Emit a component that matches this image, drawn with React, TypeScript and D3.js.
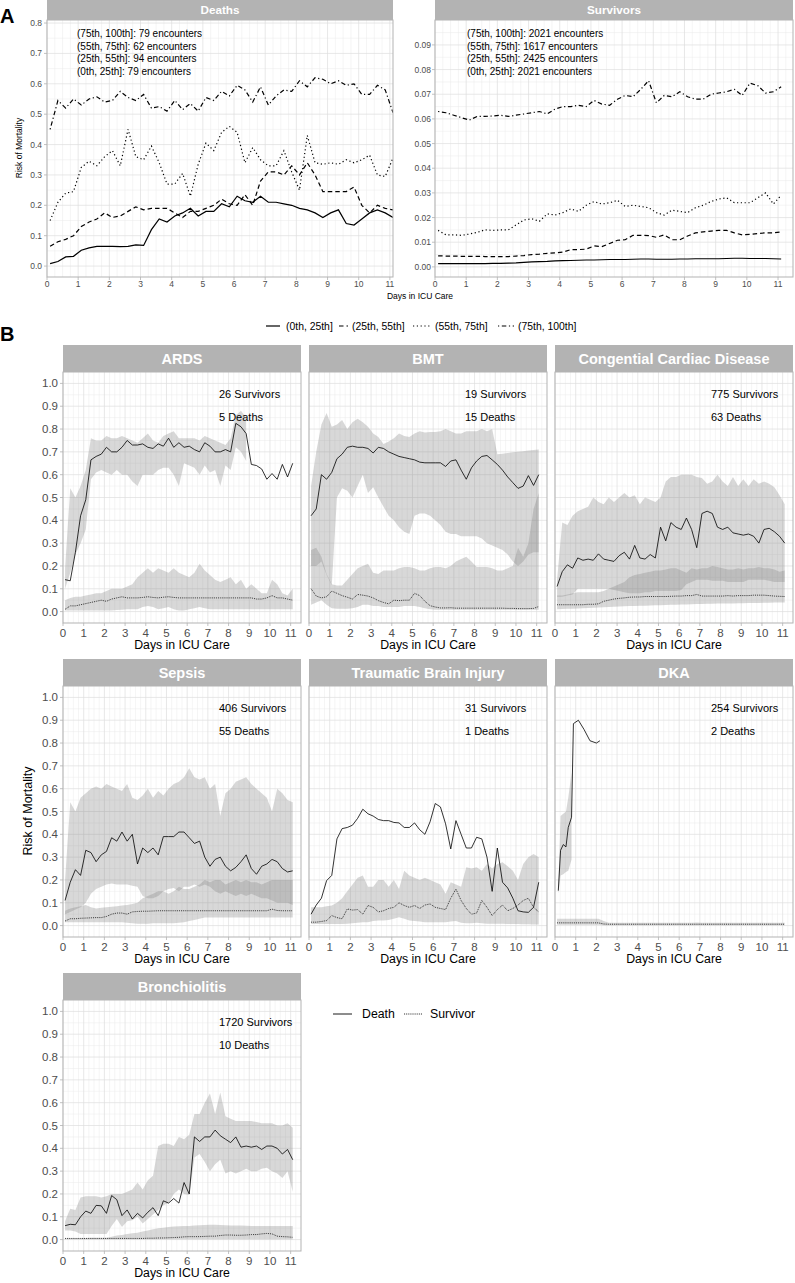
import React from 'react'
import * as d3 from 'd3'

// sampling grid (days in ICU) shared by most series
const DAYS = d3.range(0.1, 11.11, 0.25)
const X_TICKS = d3.range(0, 12)

// ---------- Panel A ----------
const QUARTILES = ['(0th, 25th]', '(25th, 55th]', '(55th, 75th]', '(75th, 100th]']
const DEATH_ENCOUNTERS = [79, 94, 62, 79]
const SURVIVOR_ENCOUNTERS = [2021, 2425, 1617, 2021]
const A_DEATH_TICKS = [0, 0.1, 0.2, 0.3, 0.4, 0.5, 0.6, 0.7, 0.8]
const A_SURV_TICKS = [0, 0.01, 0.02, 0.03, 0.04, 0.05, 0.06, 0.07, 0.08, 0.09]

const A_DEATH_Q1 = [0.008,0.015,0.03,0.032,0.052,0.06,0.065,0.065,0.065,0.064,0.065,0.07,0.068,0.12,0.155,0.145,0.165,0.175,0.19,0.165,0.18,0.18,0.205,0.195,0.23,0.215,0.21,0.23,0.21,0.21,0.205,0.2,0.19,0.185,0.175,0.16,0.175,0.185,0.14,0.135,0.155,0.175,0.185,0.175,0.16]
const A_DEATH_Q2 = [0.065,0.08,0.088,0.1,0.13,0.145,0.155,0.175,0.16,0.165,0.18,0.195,0.185,0.19,0.19,0.19,0.175,0.16,0.18,0.18,0.19,0.2,0.22,0.205,0.2,0.235,0.2,0.28,0.31,0.31,0.3,0.33,0.3,0.34,0.3,0.245,0.245,0.245,0.245,0.26,0.2,0.175,0.2,0.19,0.185]
const A_DEATH_Q3 = [0.15,0.21,0.24,0.245,0.325,0.345,0.33,0.36,0.38,0.33,0.45,0.36,0.35,0.395,0.34,0.27,0.27,0.305,0.23,0.335,0.405,0.38,0.44,0.46,0.44,0.34,0.39,0.35,0.33,0.33,0.38,0.31,0.25,0.43,0.34,0.335,0.34,0.335,0.35,0.34,0.35,0.365,0.3,0.295,0.355]
const A_DEATH_Q4 = [0.45,0.545,0.52,0.55,0.53,0.55,0.557,0.54,0.545,0.575,0.555,0.545,0.565,0.52,0.525,0.51,0.545,0.515,0.535,0.51,0.555,0.545,0.575,0.56,0.595,0.58,0.54,0.59,0.53,0.56,0.58,0.575,0.61,0.59,0.62,0.615,0.6,0.61,0.595,0.6,0.565,0.565,0.595,0.58,0.505]

const A_SURV_Q1 = [0.0013,0.0013,0.0013,0.0013,0.0013,0.0013,0.0013,0.0014,0.0014,0.0015,0.0016,0.0018,0.002,0.0021,0.0022,0.0024,0.0025,0.0026,0.0027,0.0028,0.0028,0.0029,0.003,0.003,0.003,0.0031,0.0032,0.0032,0.0031,0.0031,0.0031,0.0032,0.0032,0.0033,0.0033,0.0033,0.0033,0.0034,0.0035,0.0035,0.0034,0.0034,0.0034,0.0033,0.0032]
const A_SURV_Q2 = [0.0045,0.0044,0.0044,0.0043,0.0043,0.0043,0.0042,0.0042,0.0042,0.0042,0.0044,0.0046,0.005,0.0052,0.0055,0.0057,0.006,0.007,0.007,0.0072,0.0085,0.0082,0.0095,0.0108,0.011,0.0128,0.0128,0.0127,0.012,0.013,0.011,0.011,0.0125,0.0138,0.0142,0.0145,0.0148,0.0148,0.0138,0.013,0.0132,0.0135,0.0138,0.0138,0.0142]
const A_SURV_Q3 = [0.0148,0.013,0.013,0.0128,0.0133,0.014,0.015,0.0148,0.015,0.015,0.017,0.019,0.0195,0.0185,0.0215,0.021,0.022,0.0235,0.0225,0.025,0.0265,0.0255,0.026,0.027,0.0245,0.025,0.0245,0.024,0.022,0.021,0.023,0.0225,0.022,0.024,0.025,0.0265,0.0275,0.028,0.026,0.026,0.026,0.028,0.03,0.0255,0.029]
const A_SURV_Q4 = [0.063,0.0625,0.0615,0.0605,0.0595,0.061,0.061,0.0612,0.0615,0.061,0.0615,0.062,0.0625,0.063,0.062,0.064,0.065,0.065,0.0655,0.065,0.0675,0.066,0.0655,0.068,0.0695,0.069,0.072,0.0755,0.0665,0.0695,0.069,0.071,0.069,0.068,0.068,0.07,0.0705,0.071,0.072,0.0695,0.0745,0.0735,0.0705,0.071,0.073]

// ---------- Panel B ----------
const CONDITIONS = ['ARDS', 'BMT', 'Congential Cardiac Disease', 'Sepsis', 'Traumatic Brain Injury', 'DKA', 'Bronchiolitis']
const SURVIVOR_N = [26, 19, 775, 406, 31, 254, 1720]
const DEATH_N = [5, 15, 63, 55, 1, 2, 10]
const B_Y_TICKS = [0, 0.1, 0.2, 0.3, 0.4, 0.5, 0.6, 0.7, 0.8, 0.9, 1.0]
const OUTCOMES = ['Death', 'Survivor']

const ARDS_D_MID = [0.14,0.135,0.26,0.42,0.49,0.665,0.68,0.69,0.72,0.7,0.7,0.72,0.75,0.73,0.73,0.735,0.72,0.715,0.735,0.725,0.76,0.72,0.74,0.72,0.725,0.71,0.7,0.74,0.725,0.7,0.7,0.71,0.7,0.825,0.81,0.78,0.645,0.64,0.625,0.58,0.605,0.58,0.645,0.59,0.65]
const ARDS_D_LO = [0.1,0.17,0.25,0.3,0.36,0.58,0.61,0.62,0.61,0.6,0.62,0.6,0.6,0.57,0.55,0.6,0.6,0.6,0.62,0.63,0.63,0.6,0.55,0.65,0.64,0.63,0.6,0.64,0.61,0.62,0.55,0.64,0.62,0.72,0.7,0.66,null,null,null,null,null,null,null,null,null]
const ARDS_D_HI = [0.19,0.54,0.5,0.55,0.62,0.76,0.75,0.75,0.77,0.76,0.76,0.77,0.76,0.75,0.74,0.76,0.78,0.75,0.74,0.77,0.78,0.79,0.76,0.76,0.76,0.76,0.75,0.77,0.76,0.75,0.74,0.73,0.76,0.86,0.88,0.85,null,null,null,null,null,null,null,null,null]
const ARDS_S_MID = [0.01,0.025,0.025,0.03,0.035,0.04,0.045,0.05,0.045,0.055,0.06,0.065,0.06,0.06,0.06,0.062,0.065,0.062,0.06,0.063,0.065,0.062,0.06,0.06,0.06,0.06,0.06,0.06,0.06,0.06,0.06,0.06,0.06,0.06,0.06,0.06,0.06,0.055,0.055,0.06,0.07,0.06,0.06,0.055,0.05]
const ARDS_S_LO = [0.005,0.005,0.005,0.005,0.005,0.005,0.005,0.005,0.005,0.005,0.007,0.008,0.01,0.01,0.01,0.02,0.025,0.02,0.01,0.015,0.02,0.01,0.005,0.005,0.01,0.015,0.02,0.015,0.01,0.01,0.01,0.01,0.01,0.01,0.01,0.01,0.01,0.01,0.01,0.01,0.01,0.01,0.01,0.01,0.01]
const ARDS_S_HI = [0.05,0.06,0.065,0.065,0.07,0.075,0.08,0.08,0.09,0.1,0.1,0.1,0.11,0.12,0.15,0.17,0.19,0.17,0.19,0.18,0.17,0.19,0.17,0.16,0.15,0.17,0.21,0.18,0.16,0.14,0.13,0.14,0.15,0.12,0.14,0.1,0.12,0.1,0.08,0.08,0.14,0.12,0.08,0.07,0.1]

const BMT_D_MID = [0.42,0.45,0.6,0.58,0.61,0.67,0.69,0.72,0.725,0.72,0.72,0.715,0.695,0.72,0.715,0.7,0.69,0.68,0.675,0.67,0.665,0.655,0.652,0.652,0.652,0.652,0.636,0.66,0.665,0.62,0.58,0.63,0.66,0.68,0.684,0.665,0.645,0.62,0.59,0.565,0.54,0.55,0.596,0.553,0.6]
const BMT_D_LO = [0.2,0.2,0.22,0.16,0.115,0.5,0.54,0.53,0.5,0.55,0.6,0.52,0.545,0.5,0.46,0.42,0.4,0.37,0.35,0.34,0.42,0.43,0.43,0.42,0.4,0.38,0.35,0.34,0.34,0.33,0.33,0.33,0.33,0.32,0.3,0.29,0.28,0.27,0.25,0.22,0.2,0.22,0.25,0.26,0.26]
const BMT_D_HI = [0.55,0.7,0.82,0.87,0.81,0.82,0.84,0.8,0.83,0.845,0.83,0.81,0.78,0.765,0.735,0.745,0.76,0.78,0.77,0.765,0.78,0.79,0.785,0.787,0.787,0.79,0.8,0.79,0.78,0.78,0.79,0.79,0.79,0.8,0.79,0.8,0.69,0.692,0.695,0.698,0.7,0.703,0.706,0.708,0.71]
const BMT_S_MID = [0.1,0.068,0.06,0.065,0.09,0.08,0.07,0.063,0.055,0.075,0.072,0.068,0.06,0.048,0.04,0.034,0.05,0.048,0.05,0.05,0.08,0.07,0.045,0.026,0.02,0.016,0.016,0.017,0.015,0.015,0.015,0.015,0.015,0.015,0.015,0.015,0.015,0.015,0.014,0.014,0.013,0.013,0.013,0.014,0.022]
const BMT_S_LO = [0.03,0.04,0.05,0.03,0.015,0.012,0.012,0.012,0.015,0.02,0.03,0.03,0.025,0.025,0.02,0.02,0.02,0.02,0.025,0.025,0.025,0.02,0.015,0.01,0.008,0.008,0.008,0.008,0.008,0.008,0.008,0.008,0.008,0.008,0.008,0.008,0.008,0.008,0.008,0.008,0.008,0.008,0.008,0.008,0.008]
const BMT_S_HI = [0.27,0.28,0.24,0.165,0.12,0.114,0.114,0.14,0.165,0.19,0.2,0.21,0.17,0.165,0.18,0.18,0.18,0.19,0.195,0.195,0.19,0.18,0.18,0.19,0.195,0.195,0.19,0.2,0.22,0.23,0.24,0.22,0.195,0.195,0.195,0.19,0.18,0.18,0.19,0.2,0.28,0.24,0.3,0.45,0.52]

const CCD_D_MID = [0.11,0.175,0.205,0.19,0.235,0.225,0.23,0.225,0.253,0.23,0.225,0.22,0.245,0.26,0.23,0.29,0.235,0.23,0.25,0.235,0.37,0.31,0.39,0.37,0.36,0.41,0.36,0.28,0.43,0.44,0.43,0.37,0.36,0.37,0.345,0.34,0.335,0.34,0.33,0.3,0.36,0.365,0.35,0.33,0.3]
const CCD_D_LO = [0.065,0.065,0.07,0.075,0.1,0.1,0.1,0.1,0.1,0.1,0.1,0.095,0.09,0.085,0.08,0.08,0.08,0.085,0.085,0.09,0.09,0.09,0.09,0.09,0.095,0.12,0.13,0.14,0.14,0.14,0.135,0.135,0.135,0.13,0.13,0.13,0.13,0.14,0.14,0.14,0.14,0.135,0.13,0.13,0.13]
const CCD_D_HI = [0.14,0.39,0.38,0.42,0.44,0.45,0.46,0.5,0.48,0.47,0.5,0.48,0.5,0.52,0.5,0.51,0.47,0.5,0.49,0.48,0.5,0.57,0.59,0.59,0.6,0.6,0.6,0.59,0.585,0.56,0.57,0.6,0.57,0.55,0.59,0.55,0.58,0.55,0.58,0.56,0.57,0.56,0.545,0.51,0.47]
const CCD_S_MID = [0.03,0.03,0.03,0.03,0.03,0.03,0.032,0.032,0.034,0.045,0.05,0.055,0.058,0.06,0.063,0.064,0.064,0.066,0.066,0.066,0.066,0.066,0.067,0.068,0.068,0.07,0.07,0.075,0.068,0.068,0.068,0.068,0.068,0.07,0.068,0.07,0.07,0.07,0.072,0.072,0.072,0.07,0.068,0.067,0.066]
const CCD_S_LO = [0.01,0.011,0.012,0.013,0.014,0.015,0.016,0.017,0.018,0.019,0.02,0.021,0.022,0.023,0.024,0.025,0.026,0.026,0.027,0.028,0.028,0.029,0.03,0.03,0.031,0.031,0.032,0.033,0.033,0.034,0.034,0.035,0.035,0.036,0.036,0.037,0.037,0.038,0.038,0.038,0.039,0.039,0.04,0.04,0.04]
const CCD_S_HI = [0.07,0.07,0.075,0.08,0.085,0.085,0.085,0.085,0.085,0.09,0.1,0.11,0.12,0.13,0.15,0.16,0.165,0.17,0.175,0.18,0.18,0.185,0.19,0.19,0.18,0.17,0.19,0.185,0.19,0.19,0.2,0.195,0.19,0.185,0.185,0.19,0.185,0.19,0.19,0.195,0.19,0.19,0.185,0.175,0.18]

const SEP_D_MID = [0.11,0.19,0.245,0.22,0.33,0.32,0.28,0.31,0.325,0.385,0.37,0.41,0.37,0.4,0.27,0.34,0.32,0.34,0.31,0.39,0.39,0.39,0.41,0.41,0.385,0.36,0.37,0.3,0.26,0.29,0.3,0.26,0.24,0.255,0.28,0.31,0.25,0.225,0.26,0.27,0.29,0.28,0.25,0.235,0.24]
const SEP_D_LO = [0.05,0.06,0.07,0.08,0.1,0.14,0.16,0.17,0.18,0.185,0.18,0.18,0.18,0.175,0.17,0.13,0.12,0.12,0.13,0.15,0.16,0.165,0.15,0.17,0.17,0.18,0.17,0.18,0.17,0.15,0.14,0.15,0.14,0.13,0.14,0.13,0.14,0.13,0.12,0.12,0.11,0.1,0.1,0.1,0.09]
const SEP_D_HI = [0.2,0.54,0.5,0.56,0.58,0.6,0.61,0.6,0.62,0.61,0.6,0.59,0.62,0.56,0.55,0.57,0.6,0.56,0.59,0.57,0.6,0.62,0.63,0.65,0.69,0.65,0.64,0.65,0.6,0.62,0.48,0.58,0.6,0.63,0.64,0.65,0.62,0.6,0.58,0.56,0.5,0.6,0.58,0.55,0.54]
const SEP_S_MID = [0.02,0.03,0.03,0.032,0.033,0.034,0.035,0.035,0.04,0.05,0.055,0.055,0.05,0.06,0.062,0.063,0.063,0.064,0.065,0.065,0.065,0.065,0.065,0.065,0.065,0.065,0.065,0.065,0.065,0.065,0.065,0.065,0.065,0.065,0.065,0.065,0.065,0.065,0.065,0.065,0.072,0.066,0.065,0.065,0.065]
const SEP_S_LO = [0.015,0.015,0.015,0.015,0.015,0.015,0.015,0.015,0.015,0.015,0.015,0.015,0.012,0.01,0.008,0.008,0.008,0.01,0.01,0.01,0.01,0.01,0.012,0.015,0.02,0.025,0.03,0.035,0.035,0.035,0.035,0.035,0.035,0.035,0.035,0.035,0.035,0.035,0.035,0.035,0.035,0.035,0.035,0.035,0.035]
const SEP_S_HI = [0.065,0.075,0.08,0.085,0.09,0.08,0.075,0.078,0.08,0.083,0.085,0.088,0.09,0.095,0.1,0.12,0.13,0.14,0.15,0.15,0.14,0.15,0.17,0.16,0.16,0.17,0.18,0.2,0.19,0.2,0.2,0.18,0.19,0.2,0.19,0.2,0.19,0.19,0.18,0.19,0.2,0.2,0.2,0.2,0.2]

const TBI_D_MID = [0.05,0.09,0.12,0.197,0.22,0.38,0.425,0.43,0.44,0.47,0.51,0.49,0.48,0.465,0.46,0.46,0.452,0.45,0.43,0.43,0.45,0.42,0.4,0.455,0.535,0.52,0.446,0.336,0.46,0.4,0.34,0.34,0.387,0.38,0.3,0.15,0.34,0.19,0.165,0.12,0.065,0.06,0.058,0.08,0.19]
const TBI_S_MID = [0.015,0.015,0.018,0.022,0.044,0.035,0.03,0.073,0.068,0.07,0.05,0.088,0.08,0.06,0.065,0.075,0.08,0.1,0.088,0.08,0.088,0.075,0.09,0.095,0.08,0.075,0.07,0.12,0.16,0.11,0.075,0.05,0.055,0.11,0.08,0.044,0.07,0.09,0.065,0.075,0.09,0.11,0.12,0.08,0.06]
const TBI_S_LO = [0.007,0.007,0.007,0.007,0.007,0.007,0.007,0.008,0.01,0.012,0.015,0.015,0.02,0.022,0.022,0.025,0.03,0.037,0.03,0.022,0.02,0.018,0.015,0.015,0.015,0.015,0.015,0.018,0.02,0.012,0.01,0.01,0.012,0.01,0.008,0.008,0.008,0.008,0.007,0.007,0.007,0.006,0.006,0.005,0.005]
const TBI_S_HI = [0.08,0.08,0.08,0.085,0.088,0.1,0.12,0.15,0.18,0.21,0.22,0.17,0.17,0.2,0.2,0.17,0.2,0.16,0.24,0.22,0.21,0.2,0.21,0.2,0.19,0.18,0.14,0.19,0.18,0.17,0.256,0.25,0.256,0.24,0.27,0.25,0.27,0.278,0.26,0.24,0.2,0.27,0.3,0.314,0.3]

const DKA_D_DAYS = [0.16, 0.27, 0.4, 0.53, 0.64, 0.8, 0.89, 1.13, 1.4, 1.69, 2.0, 2.17]
const DKA_D_MID = [0.153, 0.33, 0.355, 0.345, 0.43, 0.475, 0.885, 0.9, 0.86, 0.81, 0.8, 0.81]
const DKA_D_LO = [0.14, 0.22, 0.225, 0.235, 0.24, 0.29, null, null, null, null, null, null]
const DKA_D_HI = [0.17, 0.48, 0.49, 0.5, 0.56, 0.67, null, null, null, null, null, null]
const DKA_S_MID = [0.012,0.012,0.012,0.012,0.012,0.012,0.012,0.012,0.012,0.007,0.006,0.006,0.006,0.006,0.006,0.006,0.006,0.006,0.006,0.006,0.006,0.006,0.006,0.006,0.006,0.006,0.006,0.006,0.006,0.006,0.006,0.006,0.006,0.006,0.006,0.006,0.006,0.006,0.006,0.006,0.006,0.006,0.006,0.006,0.006]
const DKA_S_LO = [0.004,0.004,0.004,0.004,0.004,0.004,0.004,0.004,0.004,0.002,0.002,0.002,0.002,0.002,0.002,0.002,0.002,0.002,0.002,0.002,0.002,0.002,0.002,0.002,0.002,0.002,0.002,0.002,0.002,0.002,0.002,0.002,0.002,0.002,0.002,0.002,0.002,0.002,0.002,0.002,0.002,0.002,0.002,0.002,0.002]
const DKA_S_HI = [0.03,0.03,0.03,0.03,0.03,0.03,0.03,0.03,0.03,0.02,0.013,0.012,0.012,0.012,0.012,0.012,0.012,0.012,0.012,0.012,0.012,0.012,0.012,0.012,0.012,0.012,0.012,0.014,0.012,0.012,0.012,0.012,0.012,0.012,0.012,0.012,0.012,0.012,0.012,0.012,0.012,0.012,0.012,0.012,0.012]

const BRO_D_MID = [0.061,0.067,0.065,0.1,0.125,0.115,0.15,0.148,0.115,0.193,0.175,0.105,0.13,0.09,0.115,0.095,0.12,0.14,0.105,0.17,0.16,0.18,0.16,0.25,0.2,0.45,0.43,0.45,0.45,0.48,0.455,0.44,0.425,0.45,0.405,0.41,0.405,0.41,0.395,0.41,0.41,0.4,0.375,0.395,0.35]
const BRO_D_LO = [0.04,0.04,0.035,0.025,0.025,0.025,0.025,0.025,0.025,0.06,0.09,0.055,0.08,0.085,0.1,0.07,0.09,0.11,0.13,0.15,0.16,0.2,0.22,0.2,0.195,0.36,0.375,0.34,0.3,0.33,0.35,0.29,0.3,0.29,0.3,0.31,0.3,0.3,0.31,0.315,0.3,0.29,0.27,0.3,0.21]
const BRO_D_HI = [0.08,0.135,0.13,0.185,0.19,0.19,0.19,0.185,0.19,0.2,0.2,0.2,0.21,0.22,0.25,0.22,0.26,0.28,0.41,0.42,0.42,0.41,0.45,0.44,0.46,0.55,0.55,0.6,0.64,0.55,0.645,0.54,0.53,0.52,0.52,0.52,0.52,0.515,0.51,0.51,0.51,0.5,0.5,0.51,0.49]
const BRO_S_MID = [0.005,0.005,0.005,0.005,0.005,0.005,0.005,0.005,0.005,0.005,0.005,0.005,0.005,0.005,0.005,0.005,0.006,0.006,0.007,0.007,0.008,0.009,0.01,0.012,0.013,0.013,0.013,0.014,0.015,0.015,0.018,0.02,0.02,0.019,0.019,0.02,0.022,0.022,0.025,0.027,0.025,0.015,0.013,0.012,0.01]
const BRO_S_LO = [0.001,0.001,0.001,0.001,0.001,0.001,0.001,0.001,0.001,0.001,0.001,0.001,0.001,0.001,0.001,0.001,0.001,0.001,0.001,0.001,0.002,0.002,0.002,0.002,0.002,0.002,0.002,0.002,0.002,0.002,0.002,0.002,0.002,0.002,0.002,0.002,0.002,0.002,0.002,0.002,0.002,0.002,0.002,0.002,0.002]
const BRO_S_HI = [0.005,0.006,0.006,0.007,0.007,0.008,0.008,0.008,0.008,0.012,0.018,0.02,0.025,0.028,0.03,0.035,0.04,0.045,0.05,0.052,0.055,0.057,0.058,0.06,0.06,0.062,0.063,0.064,0.065,0.065,0.064,0.063,0.062,0.062,0.062,0.061,0.06,0.06,0.06,0.06,0.06,0.06,0.06,0.06,0.06]

const B_SERIES = [
  { dDays: DAYS, dMid: ARDS_D_MID, dLo: ARDS_D_LO, dHi: ARDS_D_HI, sMid: ARDS_S_MID, sLo: ARDS_S_LO, sHi: ARDS_S_HI },
  { dDays: DAYS, dMid: BMT_D_MID, dLo: BMT_D_LO, dHi: BMT_D_HI, sMid: BMT_S_MID, sLo: BMT_S_LO, sHi: BMT_S_HI },
  { dDays: DAYS, dMid: CCD_D_MID, dLo: CCD_D_LO, dHi: CCD_D_HI, sMid: CCD_S_MID, sLo: CCD_S_LO, sHi: CCD_S_HI },
  { dDays: DAYS, dMid: SEP_D_MID, dLo: SEP_D_LO, dHi: SEP_D_HI, sMid: SEP_S_MID, sLo: SEP_S_LO, sHi: SEP_S_HI },
  { dDays: DAYS, dMid: TBI_D_MID, dLo: null, dHi: null, sMid: TBI_S_MID, sLo: TBI_S_LO, sHi: TBI_S_HI },
  { dDays: DKA_D_DAYS, dMid: DKA_D_MID, dLo: DKA_D_LO, dHi: DKA_D_HI, sMid: DKA_S_MID, sLo: DKA_S_LO, sHi: DKA_S_HI },
  { dDays: DAYS, dMid: BRO_D_MID, dLo: BRO_D_LO, dHi: BRO_D_HI, sMid: BRO_S_MID, sLo: BRO_S_LO, sHi: BRO_S_HI },
]

// ---------- styling ----------
const FONT = '"Liberation Sans", Arial, Helvetica, sans-serif'
const STRIP = '#b3b3b3'
const GRID_MAJOR = '#dedede'
const GRID_MINOR = '#ebebeb'
const TICK_TXT = '#4d4d4d'
const BAND = '#7f7f7f'
const A_DASH = ['', '4.5,3', '1.2,2.6', '1.2,2.6,4.5,2.6']

type Scale = d3.ScaleLinear<number, number>

function Facet(props: any) {
  const { id, x, y, stripH, title, titleSize, xMinor, yMinor, yTicks, yFmt, showY,
    tickFont, xLabelY, yLabelX, children } = props
  const [left, right] = x.range()
  const [bottom, top] = y.range()
  const [y0, y1] = y.domain()
  const [x0, x1] = x.domain()
  const inY = (v: number) => v > y0 && v < y1
  const inX = (v: number) => v > x0 && v < x1
  return (
    <g>
      <rect x={left} y={top - stripH} width={right - left} height={stripH} fill={STRIP} />
      <text x={(left + right) / 2} y={top - stripH / 2} dy="0.36em" textAnchor="middle"
        fill="#fff" fontWeight="bold" fontSize={titleSize}>{title}</text>
      <rect x={left} y={top} width={right - left} height={bottom - top} fill="#fff" />
      {xMinor.filter(inX).map((v: number) => (
        <line key={'xm' + v} x1={x(v)} x2={x(v)} y1={top} y2={bottom} stroke={GRID_MINOR} strokeWidth={0.5} />
      ))}
      {yMinor.filter(inY).map((v: number) => (
        <line key={'ym' + v} x1={left} x2={right} y1={y(v)} y2={y(v)} stroke={GRID_MINOR} strokeWidth={0.5} />
      ))}
      {X_TICKS.map(v => (
        <line key={'xM' + v} x1={x(v)} x2={x(v)} y1={top} y2={bottom} stroke={GRID_MAJOR} strokeWidth={0.7} />
      ))}
      {yTicks.map((v: number) => (
        <line key={'yM' + v} x1={left} x2={right} y1={y(v)} y2={y(v)} stroke={GRID_MAJOR} strokeWidth={0.7} />
      ))}
      <defs>
        <clipPath id={id}><rect x={left} y={top} width={right - left} height={bottom - top} /></clipPath>
      </defs>
      <g clipPath={`url(#${id})`}>{children}</g>
      <rect x={left} y={top} width={right - left} height={bottom - top} fill="none" stroke={STRIP} strokeWidth={1} />
      {X_TICKS.map(v => (
        <g key={'xt' + v}>
          <line x1={x(v)} x2={x(v)} y1={bottom} y2={bottom + 3} stroke={STRIP} strokeWidth={0.8} />
          <text x={x(v)} y={xLabelY} textAnchor="middle" fontSize={tickFont} fill={TICK_TXT}>{v}</text>
        </g>
      ))}
      {showY && yTicks.map((v: number) => (
        <g key={'yt' + v}>
          <line x1={left - 3} x2={left} y1={y(v)} y2={y(v)} stroke={STRIP} strokeWidth={0.8} />
          <text x={yLabelX} y={y(v)} dy="0.35em" textAnchor="end" fontSize={tickFont} fill={TICK_TXT}>{yFmt(v)}</text>
        </g>
      ))}
    </g>
  )
}

function linePath(x: Scale, y: Scale, days: number[], vals: (number | null)[]) {
  return d3.line<number>()
    .defined(i => vals[i] != null)
    .x(i => x(days[i]))
    .y(i => y(vals[i] as number))(d3.range(vals.length)) || ''
}

function bandPath(x: Scale, y: Scale, days: number[], lo: (number | null)[], hi: (number | null)[]) {
  return d3.area<number>()
    .defined(i => lo[i] != null && hi[i] != null)
    .x(i => x(days[i]))
    .y0(i => y(lo[i] as number))
    .y1(i => y(hi[i] as number))(d3.range(lo.length)) || ''
}

const quarterDays = (max: number) => d3.range(0.25, max, 0.25).filter(v => Math.abs(v - Math.round(v)) > 1e-6)

function PanelA() {
  const xD = d3.scaleLinear().domain([0, 11.1]).range([47, 393])
  const yD = d3.scaleLinear().domain([-0.036, 0.81]).range([277, 20])
  const xS = d3.scaleLinear().domain([0, 11.48]).range([435, 793])
  const yS = d3.scaleLinear().domain([-0.0041, 0.1001]).range([277, 20])
  const deaths = [A_DEATH_Q1, A_DEATH_Q2, A_DEATH_Q3, A_DEATH_Q4]
  const survs = [A_SURV_Q1, A_SURV_Q2, A_SURV_Q3, A_SURV_Q4]
  const halfY = (ticks: number[], step: number) => ticks.map(t => t + step / 2)
  const order = [3, 2, 1, 0]
  return (
    <g>
      <text x={0} y={23} fontSize={20} fontWeight="bold">A</text>
      <Facet id="clipAD" x={xD} y={yD} stripH={20} title="Deaths" titleSize={11.7}
        xMinor={quarterDays(11.1)} yMinor={halfY(A_DEATH_TICKS, 0.1)} yTicks={A_DEATH_TICKS}
        yFmt={(v: number) => v.toFixed(1)} showY tickFont={8.5} xLabelY={287} yLabelX={42}>
        {deaths.map((vals, k) => (
          <path key={k} d={linePath(xD, yD, DAYS, vals)} fill="none" stroke="#000" strokeWidth={1.2}
            strokeDasharray={A_DASH[k] || undefined} />
        ))}
      </Facet>
      <Facet id="clipAS" x={xS} y={yS} stripH={20} title="Survivors" titleSize={11.7}
        xMinor={quarterDays(11.48)} yMinor={halfY(A_SURV_TICKS, 0.01)} yTicks={A_SURV_TICKS}
        yFmt={(v: number) => v.toFixed(2)} showY tickFont={8.5} xLabelY={287} yLabelX={431}>
        {survs.map((vals, k) => (
          <path key={k} d={linePath(xS, yS, DAYS, vals)} fill="none" stroke="#000" strokeWidth={1.2}
            strokeDasharray={A_DASH[k] || undefined} />
        ))}
      </Facet>
      {order.map((k, j) => (
        <g key={k}>
          <text x={77} y={37 + j * 12.5} fontSize={10}>{`${QUARTILES[k]}: ${DEATH_ENCOUNTERS[k]} encounters`}</text>
          <text x={467} y={37 + j * 12.5} fontSize={10}>{`${QUARTILES[k]}: ${SURVIVOR_ENCOUNTERS[k]} encounters`}</text>
        </g>
      ))}
      <text x={420} y={299} textAnchor="middle" fontSize={8.5}>Days in ICU Care</text>
      <text transform="translate(22,148) rotate(-90)" textAnchor="middle" fontSize={8.5}>Risk of Mortality</text>
    </g>
  )
}

const LEGEND_A_POS = [
  { x1: 266, x2: 280, tx: 286 },
  { x1: 339, x2: 348, tx: 352 },
  { x1: 413, x2: 431, tx: 435 },
  { x1: 498, x2: 514, tx: 518 },
]

function PanelB() {
  const colX = [63, 309, 555]
  const rowTop = [345, 659, 973]
  const stripH = 27
  const plotW = 238
  const plotH = 251
  const xMinor = quarterDays(11.5)
  const yMinor = B_Y_TICKS.map(t => t + 0.05)
  return (
    <g>
      <text x={0} y={341} fontSize={20} fontWeight="bold">B</text>
      {QUARTILES.map((q, k) => (
        <g key={q}>
          <line x1={LEGEND_A_POS[k].x1} x2={LEGEND_A_POS[k].x2} y1={326} y2={326} stroke="#000" strokeWidth={1.2}
            strokeDasharray={A_DASH[k] || undefined} />
          <text x={LEGEND_A_POS[k].tx} y={326} dy="0.35em" fontSize={10.4}>{q}</text>
        </g>
      ))}
      {CONDITIONS.map((name, i) => {
        const col = i % 3
        const row = Math.floor(i / 3)
        const left = colX[col]
        const top = rowTop[row] + stripH
        const x = d3.scaleLinear().domain([0, 11.5]).range([left, left + plotW])
        const y = d3.scaleLinear().domain([-0.05, 1.05]).range([top + plotH, top])
        const s = B_SERIES[i]
        return (
          <g key={name}>
            <Facet id={'clipB' + i} x={x} y={y} stripH={stripH} title={name} titleSize={14.5}
              xMinor={xMinor} yMinor={yMinor} yTicks={B_Y_TICKS} yFmt={(v: number) => v.toFixed(1)}
              showY={col === 0} tickFont={11.5} xLabelY={top + plotH + 14} yLabelX={left - 5}>
              <path d={bandPath(x, y, DAYS, s.sLo, s.sHi)} fill={BAND} fillOpacity={0.3} />
              {s.dLo && <path d={bandPath(x, y, s.dDays, s.dLo, s.dHi)} fill={BAND} fillOpacity={0.3} />}
              <path d={linePath(x, y, DAYS, s.sMid)} fill="none" stroke="#000" strokeWidth={0.8}
                strokeDasharray="0.9,1" />
              <path d={linePath(x, y, s.dDays, s.dMid)} fill="none" stroke="#000" strokeWidth={0.8} />
            </Facet>
            <text x={left + 156} y={top + 22} dy="0.35em" fontSize={11}>{`${SURVIVOR_N[i]} Survivors`}</text>
            <text x={left + 156} y={top + 45} dy="0.35em" fontSize={11}>{`${DEATH_N[i]} Deaths`}</text>
            <text x={left + plotW / 2} y={top + plotH + 26} textAnchor="middle" fontSize={12.3}>Days in ICU Care</text>
          </g>
        )
      })}
      <text transform="translate(32,811) rotate(-90)" textAnchor="middle" fontSize={12.5}>Risk of Mortality</text>
      <line x1={333} x2={352} y1={1014} y2={1014} stroke="#000" strokeWidth={0.9} />
      <text x={362} y={1014} dy="0.35em" fontSize={12.3}>{OUTCOMES[0]}</text>
      <line x1={404} x2={423} y1={1014} y2={1014} stroke="#000" strokeWidth={0.9} strokeDasharray="0.9,1" />
      <text x={430} y={1014} dy="0.35em" fontSize={12.3}>{OUTCOMES[1]}</text>
    </g>
  )
}

export default function App() {
  return (
    <div style={{ position: 'absolute', left: 0, top: 0 }}>
      <svg width={795} height={1283} fontFamily={FONT} style={{ display: 'block', background: '#fff' }}>
        <rect width={795} height={1283} fill="#fff" />
        <PanelA />
        <PanelB />
      </svg>
    </div>
  )
}
